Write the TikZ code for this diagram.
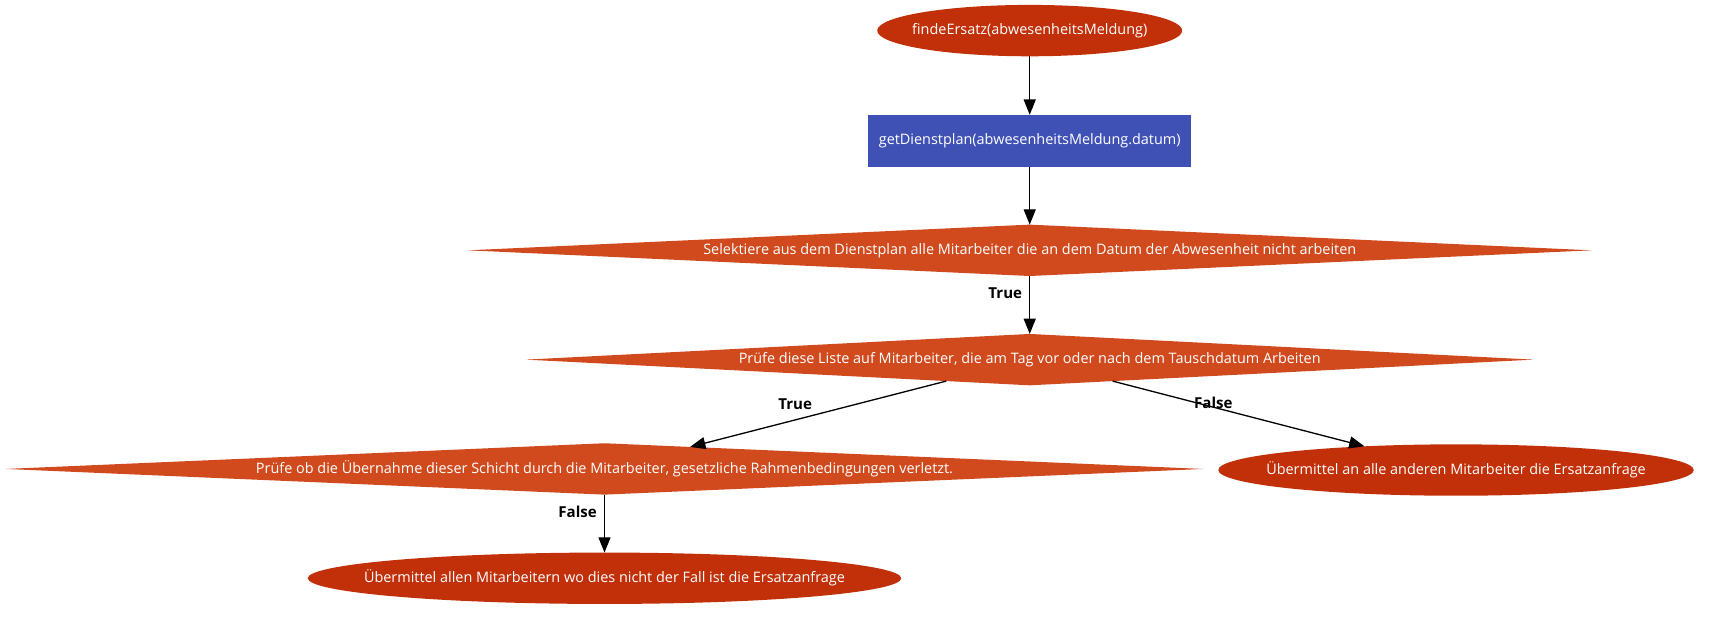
\documentclass[tikz,border=0pt]{standalone}
\usepackage{fontspec}
\setmainfont{Open Sans}
\usetikzlibrary{shapes.geometric, arrows.meta}
\definecolor{nodered}{HTML}{C2300A}
\definecolor{diamondred}{HTML}{D14A1E}
\definecolor{planblue}{HTML}{3F51B5}
\newcommand{\zw}[1]{\makebox[0pt]{#1}}

\begin{document}
\begin{tikzpicture}[x=0.5pt, y=-0.5pt,
	font=\fontsize{6.6}{7.5}\selectfont,
	every node/.style={inner sep=0pt, outer sep=0pt, text=white},
	startend/.style={ellipse, fill=nodered, minimum height=23.5pt},
	process/.style={rectangle, fill=planblue, minimum height=24pt},
	decision/.style={diamond, aspect=20, fill=diamondred, minimum height=23.5pt},
	flow/.style={-{Triangle[length=7pt, width=5.5pt]}, line width=0.6pt},
	answer/.style={text=black, font=\fontsize{6.9}{7.5}\selectfont\bfseries}]
	\useasboundingbox (0,0) rectangle (1568,572);
	% nodes
	\node [startend, minimum width=139.5pt] (start) at (942,28) {\zw{findeErsatz(abwesenheitsMeldung)}};
	\node [process, minimum width=147.5pt] (plan) at (942,129) {\zw{getDienstplan(abwesenheitsMeldung.datum)}};
	\node [decision, minimum width=514pt] (select) at (942,229) {\zw{Selektiere aus dem Dienstplan alle Mitarbeiter die an dem Datum der Abwesenheit nicht arbeiten}};
	\node [decision, minimum width=461pt] (check) at (942,329) {\zw{Prüfe diese Liste auf Mitarbeiter, die am Tag vor oder nach dem Tauschdatum Arbeiten}};
	\node [decision, minimum width=548pt] (rules) at (553,429) {\zw{Prüfe ob die Übernahme dieser Schicht durch die Mitarbeiter, gesetzliche Rahmenbedingungen verletzt.}};
	\node [startend, minimum width=217.5pt] (sendall) at (1332,430) {\zw{Übermittel an alle anderen Mitarbeiter die Ersatzanfrage}};
	\node [startend, minimum width=271.5pt] (sendok) at (553,529) {\zw{Übermittel allen Mitarbeitern wo dies nicht der Fall ist die Ersatzanfrage}};
	% connectors
	\draw [flow] (start) -- (plan);
	\draw [flow] (plan) -- (select);
	\draw [flow] (select) -- node [answer, pos=0.3, left=3.5pt] {True} (check);
	\draw [flow] (check) -- node [answer, pos=0.59, above=4.5pt] {True} (rules);
	\draw [flow] (check) -- node [answer, pos=0.4, yshift=1.8pt] {False} (sendall);
	\draw [flow] (rules) -- node [answer, pos=0.3, left=3.5pt] {False} (sendok);
\end{tikzpicture}
\end{document}
